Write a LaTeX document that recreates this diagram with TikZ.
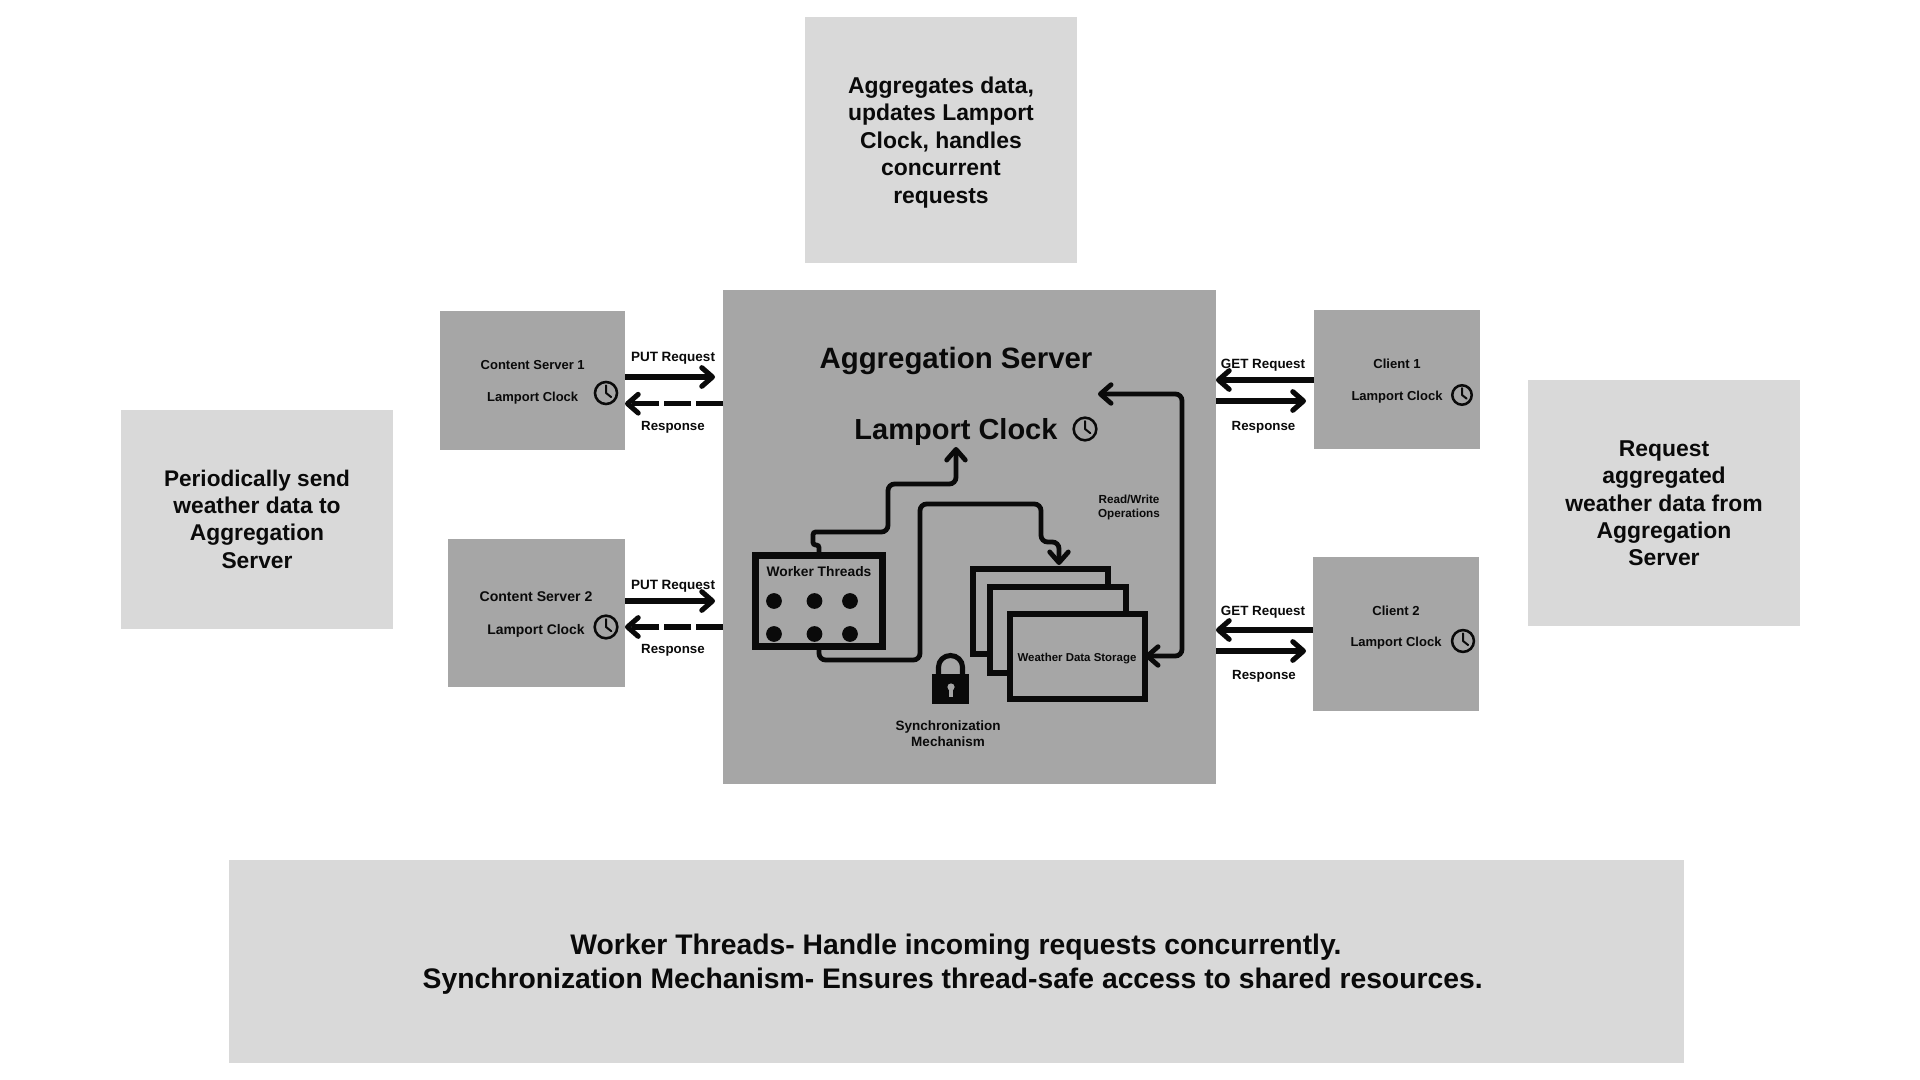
\documentclass[tikz,border=0pt]{standalone}
\usepackage{fontspec}
\setmainfont{Liberation Sans}[BoldFont={Liberation Sans Bold}]
\usetikzlibrary{arrows.meta}
\definecolor{darkpanel}{HTML}{A6A6A6}
\definecolor{lightpanel}{HTML}{D9D9D9}
\definecolor{ink}{HTML}{0A0A0A}
\newcommand\px[1]{\fontsize{\dimexpr #1pt*3/4\relax}{\dimexpr #1pt*15/16\relax}\selectfont\bfseries}
% name, style, x1, y1, x2, y2
\newcommand\panel[6]{\node[#2, minimum width={(#5-#3)*0.75pt}, minimum height={(#6-#4)*0.75pt}] (#1) at ({(#3+#5)/2},{(#4+#6)/2}) {};}
% name, x, y, outer radius
\newcommand\clockicon[4]{%
  \node[clockface, minimum size={2*#4*0.75pt-1.9pt}] (#1) at (#2,#3) {};
  \draw[clockhand] ([yshift=0.62*#4*0.75pt]#1.center) -- (#1.center) -- ++(0.42*#4,0.33*#4);}
\tikzset{
  x=0.75pt, y=-0.75pt,
  dark/.style={fill=darkpanel, draw=none, inner sep=0pt, outer sep=0pt, rectangle},
  light/.style={fill=lightpanel, draw=none, inner sep=0pt, outer sep=0pt, rectangle},
  lbl/.style={anchor=base, text=ink, inner sep=0pt, outer sep=0pt, align=center},
  clockface/.style={circle, draw=ink, line width=1.9pt, inner sep=0pt, outer sep=0pt, fill=none},
  clockhand/.style={draw=ink, line width=1.5pt, line cap=round, line join=round},
  arr/.style={draw=ink, line width=3.8pt, -{Straight Barb[length=8pt,width=14pt,round]}},
  dasharr/.style={arr, dash pattern=on 20pt off 4pt},
  wire/.style={draw=ink, line width=3.6pt, rounded corners=5pt, -{Straight Barb[length=8pt,width=14pt,round]}},
  wireboth/.style={draw=ink, line width=3.6pt, rounded corners=5pt, {Straight Barb[length=8pt,width=14pt,round]}-{Straight Barb[length=8pt,width=14pt,round]}},
  framebox/.style={rectangle, draw=ink, fill=darkpanel, line width=5.4pt, inner sep=0pt, outer sep=0pt},
  stackbox/.style={rectangle, draw=ink, fill=darkpanel, line width=4.3pt, inner sep=0pt, outer sep=0pt},
  dot/.style={circle, fill=ink, draw=none, minimum size=11.8pt, inner sep=0pt},
}
\begin{document}
\begin{tikzpicture}
\useasboundingbox[fill=white] (0,0) rectangle (1920,1080);

% panels
\panel{note top}{light}{805}{17}{1077}{263}
\panel{note left}{light}{121}{410}{393}{628.5}
\panel{note right}{light}{1528}{380}{1800}{626}
\panel{note bottom}{light}{229}{860}{1684}{1063}
\panel{server}{dark}{723}{290}{1216}{784}
\panel{cs1}{dark}{440}{311}{625}{450}
\panel{cs2}{dark}{448}{538.5}{625}{687}
\panel{cl1}{dark}{1314}{310}{1480}{449}
\panel{cl2}{dark}{1313}{556.5}{1479}{711}

% note texts
\node[lbl,font=\px{22.9}] (n1a) at (941,94) {Aggregates data,};
\node[lbl,font=\px{22.9}] (n1b) at (941,121) {updates Lamport};
\node[lbl,font=\px{22.9}] (n1c) at (941,149) {Clock, handles};
\node[lbl,font=\px{22.9}] (n1d) at (941,176) {concurrent};
\node[lbl,font=\px{22.9}] (n1e) at (941,204) {requests};

\node[lbl,font=\px{22.6}] (n2a) at (257,486.5) {Periodically send};
\node[lbl,font=\px{22.8}] (n2b) at (257,513.5) {weather data to};
\node[lbl,font=\px{22.8}] (n2c) at (257,540.5) {Aggregation};
\node[lbl,font=\px{22.8}] (n2d) at (257,568.5) {Server};

\node[lbl,font=\px{22.9}] (n3a) at (1664,456) {Request};
\node[lbl,font=\px{22.9}] (n3b) at (1664,483) {aggregated};
\node[lbl,font=\px{22.9}] (n3c) at (1664,511) {weather data from};
\node[lbl,font=\px{22.9}] (n3d) at (1664,538) {Aggregation};
\node[lbl,font=\px{22.9}] (n3e) at (1664,565.5) {Server};

\node[lbl,font=\px{28.3}] (n4a) at (956,954) {Worker Threads- Handle incoming requests concurrently.};
\node[lbl,font=\px{28.3}] (n4b) at (952.7,988) {Synchronization Mechanism- Ensures thread-safe access to shared resources.};

% content servers
\node[lbl,font=\px{13}] (cs1a) at (532.7,369.5) {Content Server 1};
\node[lbl,font=\px{13}] (cs1b) at (532.7,402) {Lamport Clock};
\clockicon{clk1}{606}{393}{12.3}
\node[lbl,font=\px{14.1}] (cs2a) at (536,601) {Content Server 2};
\node[lbl,font=\px{13.9}] (cs2b) at (536,634) {Lamport Clock};
\clockicon{clk2}{606}{627}{12.6}

% clients
\node[lbl,font=\px{13.1}] (cl1a) at (1397,369) {Client 1};
\node[lbl,font=\px{13}] (cl1b) at (1397,401) {Lamport Clock};
\clockicon{clk3}{1462}{395}{11}
\node[lbl,font=\px{13.1}] (cl2a) at (1396,615) {Client 2};
\node[lbl,font=\px{13}] (cl2b) at (1396,646) {Lamport Clock};
\clockicon{clk4}{1463}{641}{12.2}

% arrow labels
\node[lbl,font=\px{13.5}] (put1) at (673,362) {PUT Request};
\node[lbl,font=\px{13.3}] (res1) at (673,431) {Response};
\node[lbl,font=\px{13.5}] (put2) at (673,589) {PUT Request};
\node[lbl,font=\px{13.3}] (res2) at (673,653) {Response};
\node[lbl,font=\px{13.4}] (get1) at (1263,369) {GET Request};
\node[lbl,font=\px{13.3}] (res3) at (1263.5,431) {Response};
\node[lbl,font=\px{13.4}] (get2) at (1263,615) {GET Request};
\node[lbl,font=\px{13.3}] (res4) at (1264,679) {Response};

% side arrows
\coordinate (t1) at (715,377);
\coordinate (t2) at (715,601);
\coordinate (t3) at (1306,401);
\coordinate (t4) at (1306,651);
\coordinate (y1) at (0,403.7);
\coordinate (y2) at (0,627);
\coordinate (y3) at (0,380);
\coordinate (y4) at (0,630);
\draw[arr] (cs1.east |- t1) -- (t1);
\draw[dasharr] (server.west |- y1) -- (cs1.east |- y1);
\draw[arr] (cs2.east |- t2) -- (t2);
\draw[dasharr] (server.west |- y2) -- (cs2.east |- y2);
\draw[arr] (cl1.west |- y3) -- (server.east |- y3);
\draw[arr] (server.east |- t3) -- (t3);
\draw[arr] (cl2.west |- y4) -- (server.east |- y4);
\draw[arr] (server.east |- t4) -- (t4);

% server contents
\node[lbl,font=\px{29.4}] (title) at (956,369) {Aggregation Server};
\node[lbl,font=\px{29}] (lamport) at (956,439) {Lamport Clock};
\clockicon{clk5}{1085}{429}{12.6}

\panel{stack1}{stackbox}{973}{569}{1108}{654}
\panel{stack2}{stackbox}{990}{587}{1126}{673}
\panel{stack3}{stackbox}{1010}{614}{1145}{699}
\node[lbl,font=\px{11.45}] (storage) at (1077,661) {Weather Data Storage};

\panel{workers}{framebox}{755.5}{555.5}{882.5}{646.5}
\node[lbl,font=\px{13.8}] (wt) at (819,576) {Worker Threads};
\node[dot] (d1) at (774,601) {};
\node[dot] (d2) at (814.5,601) {};
\node[dot] (d3) at (850,601) {};
\node[dot] (d4) at (774,634) {};
\node[dot] (d5) at (814.5,634) {};
\node[dot] (d6) at (850,634) {};

\coordinate (clocktip) at (956,447);
\coordinate (stacktip) at (1059,565);
\coordinate (rwtop) at (1098,394);
\draw[wire] (workers.north) [rounded corners=2pt] -- (workers.north |- 0,545) -- (813,545) -- (813,532) [rounded corners=5pt] -- (888,532) -- (888,484) -- (956,484) -- (clocktip);
\draw[wire] (workers.south) -- (workers.south |- 0,660) -- (920,660) -- (920,504) -- (1041,504) -- (1041,542) -- (1059,542) -- (stacktip);
\draw[wireboth] (rwtop) -- (1182,394) -- (1182,656) -- (stack3.east |- 0,656);

\node[lbl,font=\px{11.7}] (rw1) at (1129,503) {Read/Write};
\node[lbl,font=\px{11.7}] (rw2) at (1129,517) {Operations};

% lock
\draw[draw=ink, line width=3.8pt] (938.5,676) -- (938.5,667) arc[start angle=180,end angle=360,x radius=12,y radius=11.5] -- (962.5,676);
\fill[ink] (932,674) rectangle (969,704);
\fill[darkpanel] (951,687) circle[radius=3.6];
\fill[darkpanel] (949.2,687) rectangle (952.8,697);

\node[lbl,font=\px{13.5}] (sync1) at (948,730) {Synchronization};
\node[lbl,font=\px{13.5}] (sync2) at (948,746) {Mechanism};
\end{tikzpicture}
\end{document}
